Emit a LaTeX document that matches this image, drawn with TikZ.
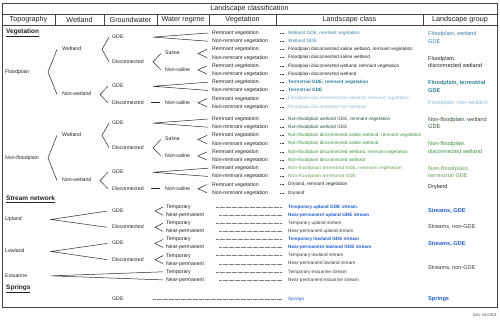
\documentclass[tikz,border=0pt]{standalone}
\usepackage{fontspec}
\setmainfont{Liberation Sans}
\usetikzlibrary{calc}
\definecolor{txt}{HTML}{222222}
\definecolor{teal1}{HTML}{3B7FA3}
\definecolor{teal2}{HTML}{2E7D9A}
\definecolor{lblue}{HTML}{8CB9D0}
\definecolor{dgreen}{HTML}{2F4F2F}
\definecolor{mgreen}{HTML}{3F8F3F}
\definecolor{lgreen}{HTML}{8FB980}
\definecolor{sblue}{HTML}{1F5BD6}
\definecolor{sgray}{HTML}{3A3A3A}
\definecolor{frm}{HTML}{444444}
\newcommand\brk[5]{\draw[br] ({#2},0 |- #4) -- ({#1},0 |- #3) -- ({#2},0 |- #5);}
\begin{document}
\begin{tikzpicture}[x=1pt,y=-1pt,
  lbl/.style={anchor=west, inner sep=0pt, font=\fontsize{5.2}{6}\selectfont, text=txt, text height=3.8pt, text depth=1pt},
  cls/.style={anchor=west, inner sep=0pt, font=\fontsize{4.7}{5.6}\selectfont, text height=3.4pt, text depth=0.9pt},
  grp/.style={anchor=west, inner sep=0pt, align=left, font=\fontsize{5.6}{7.3}\selectfont},
  hdr/.style={inner sep=0pt, font=\fontsize{7.2}{8}\selectfont, text=txt},
  sec/.style={anchor=west, inner sep=0pt, font=\fontsize{6.5}{7}\selectfont\bfseries, text=txt},
  br/.style={line width=0.5pt, draw=black!85},
  dotl/.style={line width=0.3pt, draw=black!50, dash pattern=on 0.6pt off 0.6pt},
  dsh/.style={line width=0.45pt, draw=black!80, dash pattern=on 1pt off 0.7pt},
  frame/.style={line width=0.7pt, draw=frm},
  cW/.style={text=teal1}, cWb/.style={text=teal2, font=\fontsize{4.7}{5.6}\selectfont\bfseries},
  cB/.style={text=txt}, cL/.style={text=lblue}, cDG/.style={text=dgreen}, cG/.style={text=mgreen},
  cLG/.style={text=lgreen, font=\fontsize{4.7}{5.6}\selectfont\bfseries},
  cS/.style={text=sblue, font=\fontsize{4.7}{5.6}\selectfont\bfseries}, cN/.style={text=sgray}, cSp/.style={text=sblue}
]
\useasboundingbox (0,0) rectangle (500,319);
% frame and header
\draw[frame] (2,3) rectangle (497,307.5);
\draw[frame] (2,14.5) -- (497,14.5);
\draw[frame] (2,25.5) -- (497,25.5);
\foreach \xx in {55,104,157,209,276,423} \draw[frame] (\xx,14.5) -- (\xx,25.5);
\node[hdr] (hlc) at (249.5,9) {Landscape classification};
\node[hdr] (h1) at (28.5,20) {Topography};
\node[hdr] (h2) at (79.5,20) {Wetland};
\node[hdr] (h3) at (130.5,20) {Groundwater};
\node[hdr] (h4) at (183,20) {Water regime};
\node[hdr] (h5) at (242.5,20) {Vegetation};
\node[hdr] (h6) at (349.5,20) {Landscape class};
\node[hdr] (h7) at (460,20) {Landscape group};
% section headings
\node[sec] (secv) at (6,33) {\underline{Vegetation}};
\node[sec] (secs) at (6,199) {\underline{Stream network}};
\node[sec] (secp) at (6,289) {\underline{Springs}};
% vegetation rows and classes
\foreach \i/\y/\s/\t in {
1/33/cW/{Wetland GDE, remnant vegetation},
2/41.2/cW/{Wetland GDE},
3/49.4/cB/{Floodplain disconnected saline wetland, remnant vegetation},
4/57.6/cB/{Floodplain disconnected saline wetland},
5/65.8/cB/{Floodplain disconnected wetland, remnant vegetation},
6/74/cB/{Floodplain disconnected wetland},
7/82.2/cWb/{Terrestrial GDE, remnant vegetation},
8/90.4/cWb/{Terrestrial GDE},
9/98.6/cL/{Floodplain disconnected non-wetland, remnant vegetation},
10/106.8/cL/{Floodplain disconnected non-wetland},
11/119/cDG/{Non-floodplain wetland GDE, remnant vegetation},
12/127.2/cDG/{Non-floodplain wetland GDE},
13/135.4/cG/{Non-floodplain disconnected saline wetland, remnant vegetation},
14/143.6/cG/{Non-floodplain disconnected saline wetland},
15/151.8/cG/{Non-floodplain disconnected wetland, remnant vegetation},
16/160/cG/{Non-floodplain disconnected wetland},
17/168.2/cLG/{Non-floodplain terrestrial GDE, remnant vegetation},
18/176.4/cLG/{Non-floodplain terrestrial GDE},
19/184.6/cB/{Dryland, remnant vegetation},
20/192.8/cB/{Dryland}}
{
  \ifodd\i \def\vt{Remnant vegetation}\else\def\vt{Non-remnant vegetation}\fi
  \node[lbl] (v\i) at (212,\y) {\vt};
  \node[cls,\s] (c\i) at (288,\y) {\t};
  \draw[dsh] ($(c\i.west)+(-8,0)$) -- ($(c\i.west)+(-3,0)$);
}
% floodplain tree
\node[lbl] (fp) at (5,72) {Floodplain};
\node[lbl] (w1) at (62,49.4) {Wetland};
\node[lbl] (nw1) at (62,94.5) {Non-wetland};
\node[lbl] (g1) at (112,37.1) {GDE};
\node[lbl] (d1) at (112,61.7) {Disconnected};
\node[lbl] (s1) at (165,53.5) {Saline};
\node[lbl] (ns1) at (165,69.9) {Non-saline};
\node[lbl] (g2) at (112,86.3) {GDE};
\node[lbl] (d2) at (112,102.7) {Disconnected};
\node[lbl] (ns2) at (165,102.7) {Non-saline};
\brk{48}{57}{fp}{w1}{nw1}
\brk{102}{109}{w1}{g1}{d1}
\brk{153}{208}{g1}{v1}{v2}
\brk{153}{161}{d1}{s1}{ns1}
\brk{198}{207}{s1}{v3}{v4}
\brk{198}{207}{ns1}{v5}{v6}
\brk{100}{108}{nw1}{g2}{d2}
\brk{153}{208}{g2}{v7}{v8}
\draw[br] (151,0 |- d2) -- (160,0 |- ns2);
\brk{198}{207}{ns2}{v9}{v10}
% non-floodplain tree
\node[lbl] (nf) at (5,158) {Non-floodplain};
\node[lbl] (w2) at (62,135.4) {Wetland};
\node[lbl] (nw2) at (62,180.5) {Non-wetland};
\node[lbl] (g3) at (112,123.1) {GDE};
\node[lbl] (d3) at (112,147.7) {Disconnected};
\node[lbl] (s2) at (165,139.5) {Saline};
\node[lbl] (ns3) at (165,155.9) {Non-saline};
\node[lbl] (g4) at (112,172.3) {GDE};
\node[lbl] (d4) at (112,188.7) {Disconnected};
\node[lbl] (ns4) at (165,188.7) {Non-saline};
\brk{48}{57}{nf}{w2}{nw2}
\brk{102}{109}{w2}{g3}{d3}
\brk{153}{208}{g3}{v11}{v12}
\brk{153}{161}{d3}{s2}{ns3}
\brk{198}{207}{s2}{v13}{v14}
\brk{198}{207}{ns3}{v15}{v16}
\brk{100}{108}{nw2}{g4}{d4}
\brk{153}{208}{g4}{v17}{v18}
\draw[br] (151,0 |- d4) -- (160,0 |- ns4);
\brk{198}{207}{ns4}{v19}{v20}
% stream network
\node[lbl] (up) at (5,219.5) {Upland};
\node[lbl] (lo) at (5,251.5) {Lowland};
\node[lbl] (es) at (5,275.85) {Estuarine};
\node[lbl] (sg1) at (112,211.05) {GDE};
\node[lbl] (sd1) at (112,227.25) {Disconnected};
\node[lbl] (sg2) at (112,243.45) {GDE};
\node[lbl] (sd2) at (112,259.65) {Disconnected};
\foreach \k/\yt/\yn/\st/\tt/\tn in {
1/207/215.1/cS/{Temporary upland GDE stream}/{Near-permanent upland GDE stream},
2/223.2/231.3/cN/{Temporary upland stream}/{Near-permanent upland stream},
3/239.4/247.5/cS/{Temporary lowland GDE stream}/{Near-permanent lowland GDE stream},
4/255.6/263.7/cN/{Temporary lowland stream}/{Near-permanent lowland stream},
5/271.8/279.9/cN/{Temporary estuarine stream}/{Near-permanent estuarine stream}}
{
  \node[lbl] (t\k) at (166,\yt) {Temporary};
  \node[lbl] (n\k) at (166,\yn) {Near-permanent};
  \node[cls,\st] (ct\k) at (288,\yt) {\tt};
  \node[cls,\st] (cn\k) at (288,\yn) {\tn};
  \draw[dotl] (216,0 |- t\k) -- (282,0 |- ct\k);
  \draw[dotl] (219,0 |- n\k) -- (282,0 |- cn\k);
}
\brk{51}{107}{up}{sg1}{sd1}
\brk{51}{107}{lo}{sg2}{sd2}
\brk{155}{163}{sg1}{t1}{n1}
\brk{155}{163}{sd1}{t2}{n2}
\brk{155}{163}{sg2}{t3}{n3}
\brk{155}{163}{sd2}{t4}{n4}
\brk{51}{163}{es}{t5}{n5}
% springs
\node[lbl] (spg) at (112,299) {GDE};
\node[cls,cSp] (csp) at (288,299) {Springs};
\draw[dotl] (153,0 |- spg) -- (282,0 |- csp);
% landscape groups
\node[grp,text=teal1] (gr1) at (428,37.5) {Floodplain, wetland\\GDE};
\node[grp,text=txt] (gr2) at (428,62) {Floodplain,\\disconnected wetland};
\node[grp,text=teal2,font=\fontsize{5.6}{7.3}\selectfont\bfseries] (gr3) at (428,86.5) {Floodplain, terrestrial\\GDE};
\node[grp,text=lblue] (gr4) at (428,103) {Floodplain, non-wetland};
\node[grp,text=dgreen] (gr5) at (428,123) {Non-floodplain, wetland\\GDE};
\node[grp,text=mgreen] (gr6) at (428,147.5) {Non-floodplain,\\disconnected wetland};
\node[grp,text=lgreen,font=\fontsize{5.6}{7.3}\selectfont\bfseries] (gr7) at (428,172) {Non-floodplain,\\terrestrial GDE};
\node[grp,text=txt] (gr8) at (428,187.5) {Dryland};
\node[grp,text=sblue,font=\fontsize{5.6}{7.3}\selectfont\bfseries] (gr9) at (428,211) {Streams, GDE};
\node[grp,text=sgray] (gr10) at (428,227) {Streams, non-GDE};
\node[grp,text=sblue,font=\fontsize{5.6}{7.3}\selectfont\bfseries] (gr11) at (428,243.5) {Streams, GDE};
\node[grp,text=sgray] (gr12) at (428,268) {Streams, non-GDE};
\node[grp,text=sblue,font=\fontsize{5.6}{7.3}\selectfont\bfseries] (gr13) at (428,299) {Springs};
\node[anchor=east, inner sep=0pt, font=\fontsize{4}{5}\selectfont, text=black!70] (code) at (497,315) {GAL-340-001};
\end{tikzpicture}
\end{document}
